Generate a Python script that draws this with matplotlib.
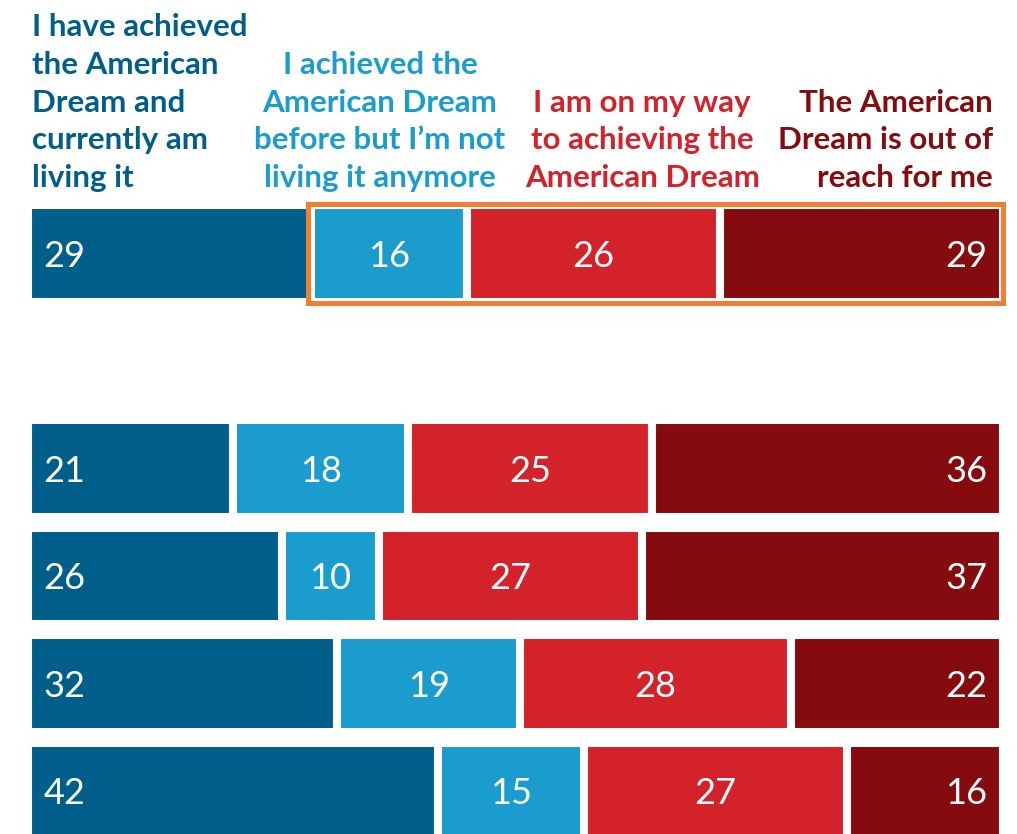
import matplotlib.pyplot as plt
from matplotlib.patches import Rectangle

# DATA
headers = [
    "I have achieved\nthe American\nDream and\ncurrently am\nliving it",
    "I achieved the\nAmerican Dream\nbefore but I\u2019m not\nliving it anymore",
    "I am on my way\nto achieving the\nAmerican Dream",
    "The American\nDream is out of\nreach for me",
]
rows = [0, 2, 3, 4, 5]
achieved_living = [29, 21, 26, 32, 42]
achieved_before = [16, 18, 10, 19, 15]
on_my_way = [26, 25, 27, 28, 27]
out_of_reach = [29, 36, 37, 22, 16]

colors = ['#005F8A', '#1A9DCE', '#D3222A', '#850B0E']
highlight = '#EE7F33'

plt.rcParams['font.family'] = ['Lato', 'DejaVu Sans']

fig = plt.figure(figsize=(10.17, 8.34), dpi=100)
ax = fig.add_axes([0, 0, 1, 1])

series = [achieved_living, achieved_before, on_my_way, out_of_reach]
# each row is stretched to 100 (rounded shares may not add up exactly)
totals = [sum(col) for col in zip(*series)]
left = [0] * len(rows)
for k, vals in enumerate(series):
    widths = [v * 100 / t for v, t in zip(vals, totals)]
    ax.barh(rows, widths, left=left, height=0.9, color=colors[k],
            edgecolor='white', linewidth=5.8)
    for r, l, w, v in zip(rows, left, widths, vals):
        if k == 0:
            x, ha = l + 1.6, 'left'
        elif k == 3:
            x, ha = l + w - 1.6, 'right'
        else:
            x, ha = l + w / 2, 'center'
        ax.text(x, r, str(v), color='white', fontsize=26, ha=ha,
                va='center_baseline')
    left = [a + b for a, b in zip(left, widths)]

# orange box around the first row, from the second segment to the end
x0 = achieved_living[0] * 100 / totals[0] - 0.33
ax.add_patch(Rectangle((x0, rows[0] - 0.465), 100 - x0, 0.93, fill=False,
                       edgecolor=highlight, linewidth=3.6, zorder=5))

# column headers
hx = [0.41, 36.1, 63.0, 99.0]
has = ['left', 'center', 'center', 'right']
for h, x, ha, c in zip(headers, hx, has, colors):
    ax.text(x, -0.62, h, color=c, fontsize=22.5, ha=ha, va='baseline',
            multialignment=ha, linespacing=1.42, fontweight='bold')

ax.set_xlim(-2.872, 101.436)
ax.set_ylim(5.4, -2.358)
ax.axis('off')

plt.savefig('out.png', dpi=100)
